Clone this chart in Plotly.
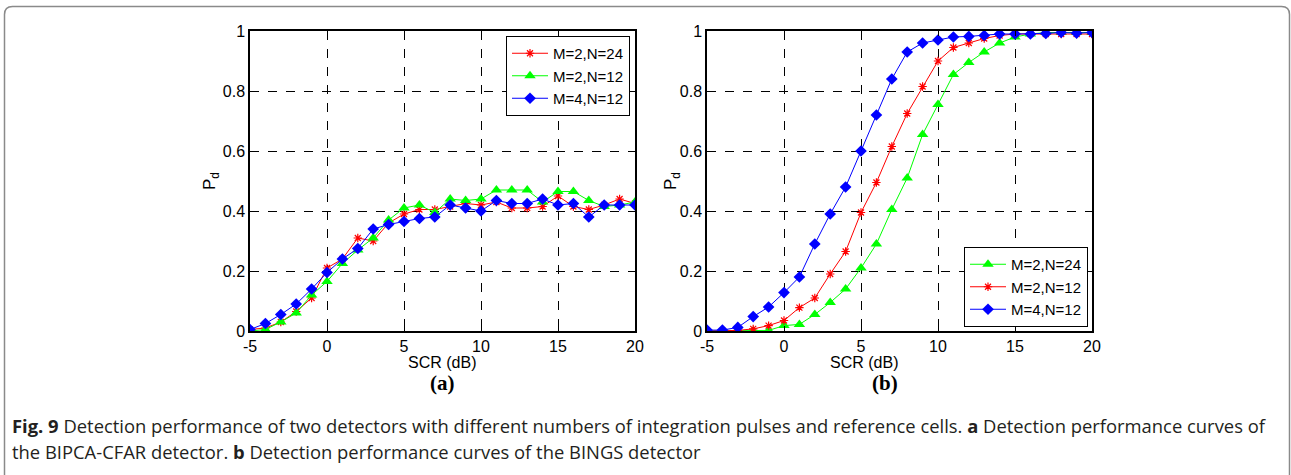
import plotly.graph_objects as go

W, H = 1291, 475

scr = list(range(-5, 21))

# (a) BIPCA-CFAR detector
a_m2n24 = [0.005, 0.01, 0.03, 0.065, 0.11, 0.21, 0.24, 0.31, 0.30, 0.36, 0.39, 0.405, 0.405,
           0.415, 0.425, 0.42, 0.43, 0.41, 0.41, 0.415, 0.45, 0.415, 0.405, 0.42, 0.44, 0.425]
a_m2n12 = [0.0, 0.005, 0.03, 0.06, 0.12, 0.165, 0.225, 0.27, 0.31, 0.37, 0.41, 0.42, 0.395,
           0.44, 0.435, 0.44, 0.47, 0.47, 0.47, 0.43, 0.465, 0.465, 0.435, 0.415, 0.42, 0.43]
a_m4n12 = [0.005, 0.025, 0.055, 0.09, 0.14, 0.195, 0.24, 0.275, 0.34, 0.355, 0.365, 0.375, 0.38,
           0.42, 0.41, 0.40, 0.435, 0.425, 0.425, 0.44, 0.42, 0.425, 0.38, 0.42, 0.42, 0.42]

# (b) BINGS detector
b_m2n24 = [0.0, 0.0, 0.0, 0.0, 0.002, 0.018, 0.022, 0.055, 0.095, 0.14, 0.21, 0.29, 0.405,
           0.51, 0.655, 0.755, 0.855, 0.895, 0.93, 0.96, 0.98, 0.99, 0.995, 0.995, 0.995, 0.995]
b_m2n12 = [0.0, 0.0, 0.002, 0.007, 0.018, 0.035, 0.078, 0.11, 0.19, 0.265, 0.395, 0.495, 0.615,
           0.725, 0.815, 0.90, 0.945, 0.96, 0.975, 0.985, 0.99, 0.99, 0.99, 0.99, 0.99, 0.99]
b_m4n12 = [0.003, 0.003, 0.012, 0.048, 0.08, 0.128, 0.18, 0.29, 0.39, 0.48, 0.60, 0.72, 0.84,
           0.93, 0.96, 0.97, 0.98, 0.982, 0.985, 0.99, 0.99, 0.99, 0.992, 0.995, 0.993, 0.995]

x_ticks = [-5, 0, 5, 10, 15, 20]
x_ticklabels = ["-5", "0", "5", "10", "15", "20"]
y_ticks = [0, 0.2, 0.4, 0.6, 0.8, 1]
y_ticklabels = ["0", "0.2", "0.4", "0.6", "0.8", "1"]

caption_l1 = ("<b>Fig. 9</b> Detection performance of two detectors with different numbers of integration "
              "pulses and reference cells. <b>a</b> Detection performance curves of")
caption_l2 = "the BIPCA-CFAR detector. <b>b</b> Detection performance curves of the BINGS detector"

RED, GREEN, BLUE = "#ff0000", "#00ff00", "#0000ff"
STYLE = {
    "red": dict(color=RED, symbol="asterisk-open", size=7, lw=1),
    "green": dict(color=GREEN, symbol="triangle-up", size=10, lw=1),
    "blue": dict(color=BLUE, symbol="diamond", size=9, lw=1),
}

fig = go.Figure()

def add(name, y, st, xa, ya, legend):
    s = STYLE[st]
    marker = dict(symbol=s["symbol"], size=s["size"], color=s["color"])
    if "open" in s["symbol"]:
        marker["line"] = dict(color=s["color"], width=1.2)
    fig.add_trace(go.Scatter(x=scr, y=y, name=name, mode="lines+markers",
                             line=dict(color=s["color"], width=s["lw"]),
                             marker=marker, xaxis=xa, yaxis=ya, legend=legend))

add("M=2,N=24", a_m2n24, "red", "x", "y", "legend")
add("M=2,N=12", a_m2n12, "green", "x", "y", "legend")
add("M=4,N=12", a_m4n12, "blue", "x", "y", "legend")
add("M=2,N=24", b_m2n24, "green", "x2", "y2", "legend2")
add("M=2,N=12", b_m2n12, "red", "x2", "y2", "legend2")
add("M=4,N=12", b_m4n12, "blue", "x2", "y2", "legend2")

font_ax = dict(family="Liberation Sans", size=16, color="black")
font_leg = dict(family="Liberation Sans", size=15, color="black")

def px_x(p):
    return p / W

def px_y(p):
    return 1 - p / H

ydom = [px_y(331), px_y(31)]
axcommon = dict(showline=True, linecolor="black", linewidth=1.5, mirror="ticks",
                ticks="inside", ticklen=5, tickcolor="black", showgrid=True,
                gridcolor="black", griddash="dash", gridwidth=1, zeroline=False,
                tickfont=font_ax, automargin=False)

fig.update_layout(
    width=W, height=H, margin=dict(l=0, r=0, t=0, b=0, autoexpand=False),
    paper_bgcolor="white", plot_bgcolor="white",
    showlegend=True,
    xaxis=dict(domain=[px_x(250), px_x(635)], range=[-5, 20], tickvals=x_ticks,
               ticktext=x_ticklabels, anchor="y", **axcommon),
    yaxis=dict(domain=ydom, range=[0, 1], tickvals=y_ticks, ticktext=y_ticklabels,
               anchor="x", **axcommon),
    xaxis2=dict(domain=[px_x(707), px_x(1092)], range=[-5, 20], tickvals=x_ticks,
                ticktext=x_ticklabels, anchor="y2", **axcommon),
    yaxis2=dict(domain=ydom, range=[0, 1], tickvals=y_ticks, ticktext=y_ticklabels,
                anchor="x2", **axcommon),
    legend=dict(x=px_x(630), y=px_y(36), xanchor="right", yanchor="top",
                bgcolor="white", bordercolor="black", borderwidth=1,
                font=font_leg, tracegroupgap=0, itemwidth=36),
    legend2=dict(x=px_x(1088), y=px_y(327), xanchor="right", yanchor="bottom",
                 bgcolor="white", bordercolor="black", borderwidth=1,
                 font=font_leg, tracegroupgap=0, itemwidth=36),
)

# axis titles and panel labels
for xc, ylab_x, lab in [(442, 211, "(a)"), (900, 672, "(b)")]:
    fig.add_annotation(x=px_x(xc), y=px_y(362), xref="paper", yref="paper", text="SCR (dB)",
                       showarrow=False, yanchor="middle", font=font_ax)
    fig.add_annotation(x=px_x(ylab_x), y=px_y(181), xref="paper", yref="paper",
                       text="P<sub>d</sub>", textangle=-90, showarrow=False,
                       xanchor="center", yanchor="middle", font=dict(font_ax, size=17))
    fig.add_annotation(x=px_x(xc), y=px_y(383), xref="paper", yref="paper", text=f"<b>{lab}</b>",
                       showarrow=False, yanchor="middle",
                       font=dict(family="Liberation Serif", size=21, color="black"))

capfont = dict(family="Open Sans", size=18.4, color="#231f20")
fig.add_annotation(x=px_x(10), y=px_y(425), xref="paper", yref="paper", text=caption_l1,
                   showarrow=False, xanchor="left", yanchor="middle", font=capfont)
fig.add_annotation(x=px_x(10), y=px_y(451), xref="paper", yref="paper", text=caption_l2,
                   showarrow=False, xanchor="left", yanchor="middle", font=capfont)

# rounded outer frame (open at bottom)
x0, x1, y0, y1, r = 4.5, 1289.5, 6.5, 475, 8
path = (f"M {px_x(x0)},{px_y(y1)} L {px_x(x0)},{px_y(y0 + r)} "
        f"Q {px_x(x0)},{px_y(y0)} {px_x(x0 + r)},{px_y(y0)} "
        f"L {px_x(x1 - r)},{px_y(y0)} Q {px_x(x1)},{px_y(y0)} {px_x(x1)},{px_y(y0 + r)} "
        f"L {px_x(x1)},{px_y(y1)}")
fig.add_shape(type="path", path=path, xref="paper", yref="paper",
              line=dict(color="#8a8a8a", width=1.5))

fig.write_html("out.html")
